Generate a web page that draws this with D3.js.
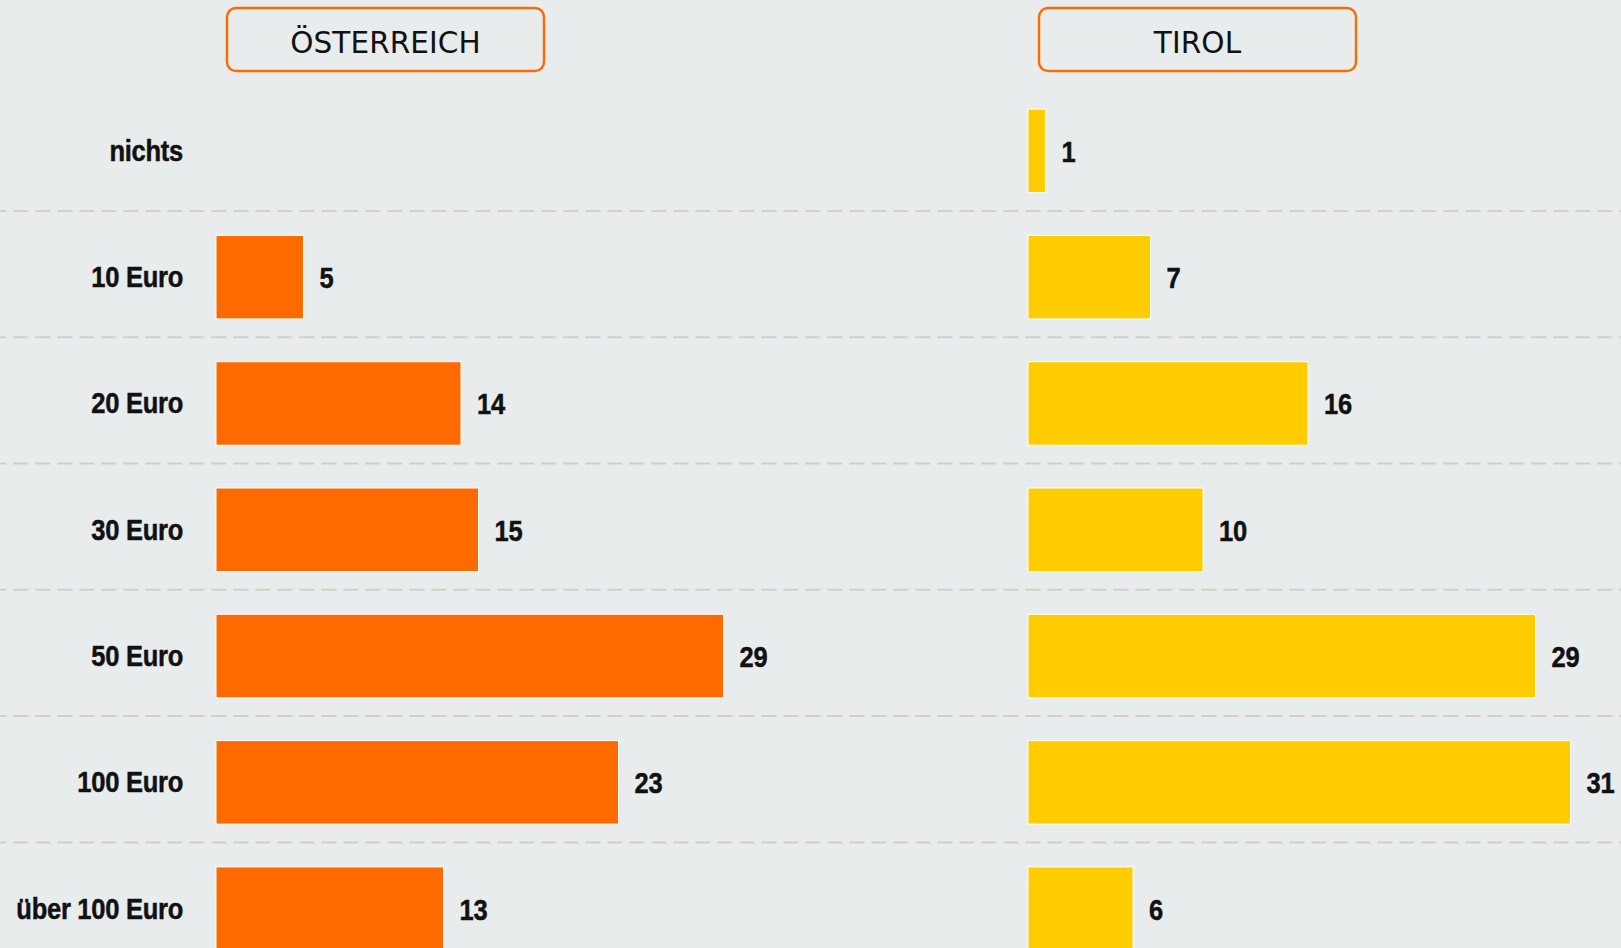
<html>
<head>
  <title>Euro bars</title>
  <meta charset="utf-8">
</head>
<style>
  body {
    padding: 0em;
    margin: 0em;
    background-color: #e9eced;
    overflow: hidden;
  }
</style>
<body>
  <div id="chart"></div>
</body>
<script src="https://cdn.jsdelivr.net/npm/d3@7"></script>
<script>
  // data
  const categories = ["nichts", "10 Euro", "20 Euro", "30 Euro", "50 Euro", "100 Euro", "über 100 Euro"]
  const oesterreich = [0, 5, 14, 15, 29, 23, 13]
  const tirol = [1, 7, 16, 10, 29, 31, 6]
  const panelTitles = ["ÖSTERREICH", "TIROL"]

  const width = 1621
  const height = 948
  const svg = d3.select("#chart").append("svg")
    .attr("width", width)
    .attr("height", height)

  // narrow bold look: Liberation Sans Bold squeezed horizontally
  const labelStyle = "font-family: 'Liberation Sans', Arial, sans-serif; font-weight: bold; font-size: 30px; letter-spacing: -0.3px; stroke: #111; stroke-width: 0.5px"
  const squeeze = 0.85

  // rows
  const y = d3.scaleBand()
    .domain(categories)
    .range([84.6, 84.6 + categories.length * 126.3])

  // value -> width
  const x = d3.scaleLinear()
    .domain([0, 31])
    .range([0, 542.5])

  // dashed separators
  svg.selectAll("line.sep").data(categories.slice(1)).join("line")
    .attr("class", "sep")
    .attr("x1", 0).attr("x2", width)
    .attr("y1", d => y(d)).attr("y2", d => y(d))
    .attr("stroke", "#d5cec3")
    .attr("stroke-width", 2)
    .attr("stroke-dasharray", "15,7")
    .attr("stroke-dashoffset", 8.7)

  // category labels
  svg.selectAll("text.cat").data(categories).join("text")
    .attr("class", "cat")
    .attr("transform", d => `translate(183,${y(d) + 66}) scale(${squeeze},1)`)
    .attr("text-anchor", "end")
    .attr("dominant-baseline", "central")
    .attr("style", labelStyle)
    .attr("fill", "#111")
    .text(d => d)

  const panels = [
    { title: panelTitles[0], values: oesterreich, x0: 216, color: "#fe6a00" },
    { title: panelTitles[1], values: tirol, x0: 1028, color: "#ffcc00" }
  ]

  panels.forEach(p => {
    const g = svg.append("g").attr("transform", `translate(${p.x0},0)`)

    // header box
    g.append("rect")
      .attr("x", 11).attr("y", 8)
      .attr("width", 317).attr("height", 63)
      .attr("rx", 9).attr("ry", 9)
      .attr("fill", "none")
      .attr("stroke", "#fe6a00")
      .attr("stroke-width", 2.4)
    g.append("text")
      .attr("x", 169.5).attr("y", 53)
      .attr("text-anchor", "middle")
      .attr("style", "font-family: 'DejaVu Sans', sans-serif; font-size: 29.5px; letter-spacing: 0.1px")
      .attr("fill", "#111")
      .text(p.title)

    const rows = categories.map((c, i) => ({ cat: c, v: p.values[i] })).filter(d => d.v > 0)

    g.selectAll("rect.bar").data(rows).join("rect")
      .attr("class", "bar")
      .attr("x", x(0))
      .attr("y", d => y(d.cat) + 24.5)
      .attr("width", d => x(d.v))
      .attr("height", 83.5)
      .attr("fill", p.color)
      .attr("stroke", "#fff")
      .attr("stroke-width", 1)

    g.selectAll("text.val").data(rows).join("text")
      .attr("class", "val")
      .attr("transform", d => `translate(${x(d.v) + 16},${y(d.cat) + 67}) scale(${squeeze},1)`)
      .attr("dominant-baseline", "central")
      .attr("style", labelStyle)
      .attr("fill", "#111")
      .text(d => d.v)
  })
</script>
</html>
